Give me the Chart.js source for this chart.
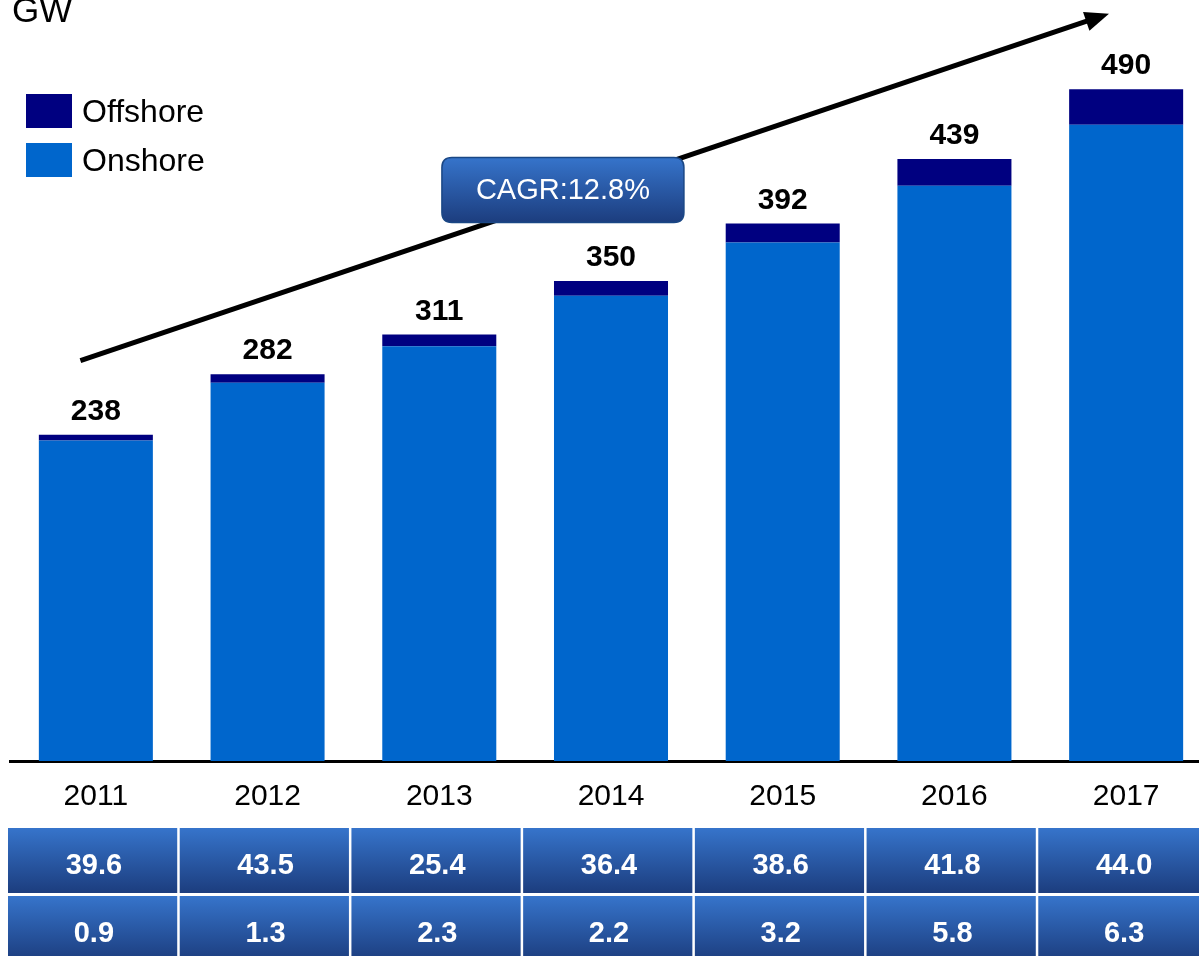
<!DOCTYPE html>
<html>
<head>
<meta charset="utf-8">
<title>Wind capacity</title>
<script src="https://cdn.jsdelivr.net/npm/chart.js@4"></script>
<style>
  html, body { margin: 0; padding: 0; background: #fff; overflow: hidden; }
  #chart { display: block; }
</style>
</head>
<body>
<canvas id="chart" width="1212" height="956"></canvas>
<script>
// cumulative capacity, GW
const years = ['2011', '2012', '2013', '2014', '2015', '2016', '2017'];
const onshore = [233.8, 275.9, 302.5, 339.3, 378.1, 419.5, 464.0];
const offshore = [4.2, 6.1, 8.5, 10.7, 13.9, 19.5, 26.0];
// yearly additions shown in the table under the axis
const onshoreAdded = [39.6, 43.5, 25.4, 36.4, 38.6, 41.8, 44.0];
const offshoreAdded = [0.9, 1.3, 2.3, 2.2, 3.2, 5.8, 6.3];
const cagrText = 'CAGR:12.8%';

const font = '"Liberation Sans", Arial, sans-serif';
const onColor = '#0066CC';
const offColor = '#000080';

function roundRect(ctx, x, y, w, h, r) {
  ctx.beginPath();
  ctx.moveTo(x + r, y);
  ctx.lineTo(x + w - r, y);
  ctx.quadraticCurveTo(x + w, y, x + w, y + r);
  ctx.lineTo(x + w, y + h - r);
  ctx.quadraticCurveTo(x + w, y + h, x + w - r, y + h);
  ctx.lineTo(x + r, y + h);
  ctx.quadraticCurveTo(x, y + h, x, y + h - r);
  ctx.lineTo(x, y + r);
  ctx.quadraticCurveTo(x, y, x + r, y);
  ctx.closePath();
}

function blueGradient(ctx, top, bottom) {
  const g = ctx.createLinearGradient(0, top, 0, bottom);
  g.addColorStop(0, '#3674CB');
  g.addColorStop(1, '#1C3D7E');
  return g;
}

const extras = {
  id: 'extras',
  afterDatasetsDraw(chart) {
    const ctx = chart.ctx;
    const x = chart.scales.x;
    const y = chart.scales.y;

    // totals above each stack
    ctx.save();
    ctx.fillStyle = '#000';
    ctx.font = 'bold 30px ' + font;
    ctx.textAlign = 'center';
    ctx.textBaseline = 'alphabetic';
    years.forEach((yr, i) => {
      const total = onshore[i] + offshore[i];
      ctx.fillText(Math.round(total).toString(), x.getPixelForValue(i), y.getPixelForValue(total) - 15);
    });
    ctx.restore();

    // growth arrow
    const x0 = x.getPixelForValue(-0.09), y0 = y.getPixelForValue(292);
    const x1 = x.getPixelForValue(5.9), y1 = y.getPixelForValue(545);
    const ang = Math.atan2(y1 - y0, x1 - x0);
    ctx.save();
    ctx.strokeStyle = '#000';
    ctx.lineWidth = 5;
    ctx.beginPath();
    ctx.moveTo(x0, y0);
    ctx.lineTo(x1 - 18 * Math.cos(ang), y1 - 18 * Math.sin(ang));
    ctx.stroke();
    ctx.fillStyle = '#000';
    ctx.beginPath();
    ctx.moveTo(x1, y1);
    ctx.lineTo(x1 - 24 * Math.cos(ang) + 10 * Math.sin(ang), y1 - 24 * Math.sin(ang) - 10 * Math.cos(ang));
    ctx.lineTo(x1 - 24 * Math.cos(ang) - 10 * Math.sin(ang), y1 - 24 * Math.sin(ang) + 10 * Math.cos(ang));
    ctx.closePath();
    ctx.fill();
    ctx.restore();

    // CAGR badge sitting on the arrow
    const cx = x.getPixelForValue(2.72), cy = y.getPixelForValue(416.5);
    const bw = 242, bh = 65;
    ctx.save();
    roundRect(ctx, cx - bw / 2, cy - bh / 2, bw, bh, 10);
    ctx.fillStyle = blueGradient(ctx, cy - bh / 2, cy + bh / 2);
    ctx.fill();
    ctx.strokeStyle = '#1A4785';
    ctx.lineWidth = 1.5;
    ctx.stroke();
    ctx.fillStyle = '#fff';
    ctx.font = '29px ' + font;
    ctx.textAlign = 'center';
    ctx.textBaseline = 'middle';
    ctx.fillText(cagrText, cx, cy + 1);
    ctx.restore();

    // legend, offshore first
    ctx.save();
    ctx.font = '32px ' + font;
    ctx.textBaseline = 'middle';
    [[offColor, 'Offshore', 94], [onColor, 'Onshore', 143]].forEach(([c, txt, top]) => {
      ctx.fillStyle = c;
      ctx.fillRect(26, top, 46, 34);
      ctx.fillStyle = '#000';
      ctx.fillText(txt, 82, top + 19);
    });
    // unit
    ctx.font = '35px ' + font;
    ctx.textBaseline = 'alphabetic';
    ctx.fillText('GW', 12, 22);
    ctx.restore();

    // table of yearly additions
    ctx.save();
    ctx.font = 'bold 29px ' + font;
    ctx.textAlign = 'center';
    ctx.textBaseline = 'middle';
    const step = x.getPixelForValue(1) - x.getPixelForValue(0);
    const rows = [[onshoreAdded, 828], [offshoreAdded, 896]];
    rows.forEach(([vals, top]) => {
      vals.forEach((v, i) => {
        const c = x.getPixelForValue(i);
        const left = c - step / 2 - 2;
        ctx.fillStyle = blueGradient(ctx, top, top + 65);
        ctx.fillRect(left, top, step - 2.5, 65);
        ctx.fillStyle = '#fff';
        ctx.fillText(v.toFixed(1), c - 2, top + 38);
      });
    });
    ctx.restore();
  }
};

new Chart(document.getElementById('chart'), {
  type: 'bar',
  data: {
    labels: years,
    datasets: [
      { label: 'Onshore', data: onshore, backgroundColor: onColor, barPercentage: 0.664, categoryPercentage: 1 },
      { label: 'Offshore', data: offshore, backgroundColor: offColor, barPercentage: 0.664, categoryPercentage: 1 }
    ]
  },
  options: {
    responsive: false,
    animation: false,
    layout: { padding: { left: 10, right: 0, top: 0, bottom: 0 } },
    plugins: { legend: { display: false }, tooltip: { enabled: false } },
    scales: {
      x: {
        stacked: true,
        grid: { display: true, drawOnChartArea: false, drawTicks: false },
        border: { display: true, color: '#000', width: 3 },
        ticks: { color: '#000', font: { family: font, size: 30 }, padding: 18 },
        afterFit(scale) { scale.height = 195; }
      },
      y: {
        stacked: true,
        display: false,
        min: 0,
        max: 555
      }
    }
  },
  plugins: [extras]
});
</script>
</body>
</html>
